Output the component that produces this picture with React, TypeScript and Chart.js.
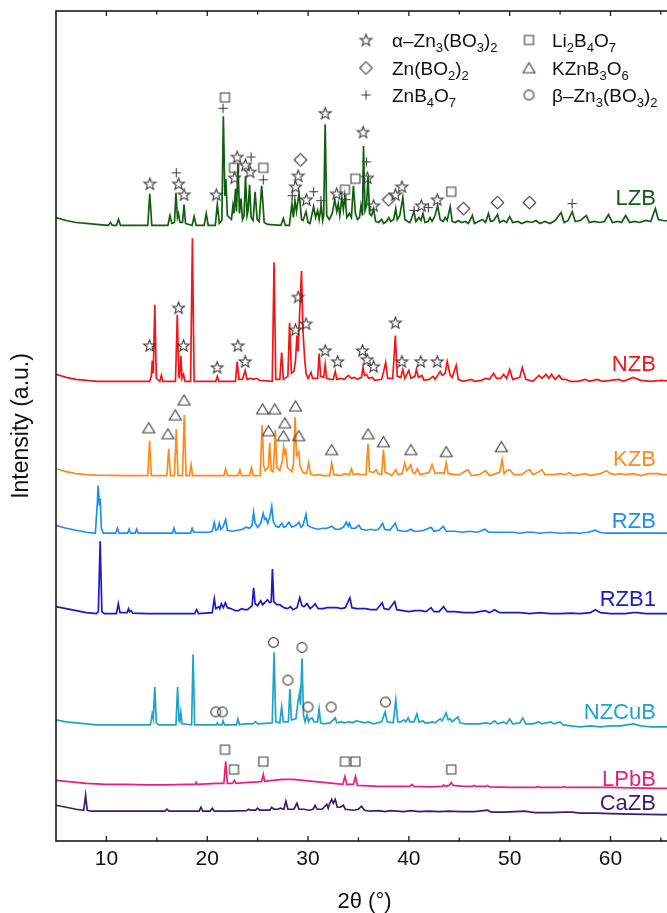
import React, { useEffect, useRef } from 'react';
import { Chart, registerables } from 'chart.js';

Chart.register(...registerables);

// ---------------- DATA ----------------
const SAMPLES = ['LZB', 'NZB', 'KZB', 'RZB', 'RZB1', 'NZCuB', 'LPbB', 'CaZB'];
// vertical stacking offsets of each pattern (a.u.)
const OFFSETS = [620, 463, 368, 310, 229, 117, 57, 30];
// label heights (a.u.)
const LABEL_Y = [647, 480, 384, 321, 243, 129, 62, 37];

// [2theta, intensity above offset]
const LZB = [
  [5, 8], [6, 5], [7, 3], [8, 2], [9, 1], [10.2, 0], [10.4, 3], [10.6, 0], [11.0, 0], [11.2, 6], [11.4, 0],
  [14.1, 0], [14.3, 32], [14.5, 0], [16.1, 0], [16.3, 10], [16.5, 2], [16.75, 3], [16.9, 33], [17.05, 8],
  [17.15, 12], [17.3, 3], [17.55, 3], [17.7, 21], [17.85, 2], [18.5, 0], [18.7, 9], [18.9, 0], [19.7, 0],
  [19.9, 12], [20.1, 0], [20.8, 0], [21.0, 21], [21.2, 2], [21.45, 5], [21.6, 110], [21.75, 30], [21.85, 47],
  [22.0, 10], [22.2, 8], [22.4, 6], [22.55, 20], [22.65, 12], [22.8, 37], [22.9, 14], [23.05, 62], [23.2, 12],
  [23.35, 27], [23.5, 6], [23.65, 10], [23.8, 50], [23.95, 10], [24.05, 15], [24.2, 41], [24.35, 8], [24.55, 5],
  [24.75, 34], [24.95, 6], [25.15, 4], [25.4, 40], [25.5, 26], [25.65, 3], [26.0, 1], [27.3, 0], [27.55, 7],
  [27.75, 0], [28.15, 0], [28.4, 22], [28.55, 8], [28.7, 25], [28.85, 14], [29.1, 32], [29.2, 24], [29.35, 6],
  [29.5, 5], [29.8, 14], [30.0, 3], [30.2, 2], [30.55, 19], [30.75, 8], [30.95, 15], [31.1, 6], [31.3, 20],
  [31.45, 5], [31.55, 10], [31.7, 102], [31.85, 10], [32.1, 6], [32.4, 12], [32.65, 26], [32.85, 14], [33.0, 22],
  [33.15, 10], [33.35, 28], [33.5, 16], [33.65, 30], [33.85, 8], [34.1, 12], [34.3, 8], [34.5, 40], [34.7, 12],
  [34.9, 6], [35.1, 8], [35.25, 20], [35.4, 10], [35.5, 80], [35.65, 15], [35.8, 20], [35.95, 50], [36.1, 12],
  [36.3, 10], [36.5, 17], [36.7, 4], [37.0, 3], [37.3, 6], [37.5, 2], [37.8, 4], [38.0, 8], [38.2, 4], [38.5, 6],
  [38.7, 17], [38.85, 6], [39.1, 10], [39.4, 28], [39.6, 6], [39.9, 4], [40.1, 3], [40.3, 8], [40.5, 14],
  [40.7, 4], [41.0, 8], [41.2, 5], [41.4, 12], [41.6, 3], [41.9, 4], [42.1, 8], [42.3, 4], [42.6, 10],
  [42.85, 20], [43.1, 6], [43.4, 4], [43.6, 8], [43.8, 5], [44.1, 19], [44.3, 4], [44.6, 3], [44.9, 5],
  [45.2, 3], [45.6, 4], [45.9, 2], [46.3, 10], [46.5, 2], [46.9, 4], [47.3, 6], [47.6, 3], [47.9, 12], [48.1, 4],
  [48.4, 5], [48.8, 11], [49.0, 3], [49.4, 5], [49.7, 3], [50.0, 9], [50.3, 3], [50.8, 4], [51.2, 2], [51.7, 4],
  [52.2, 3], [52.6, 5], [53.0, 2], [53.5, 4], [54.0, 2], [54.5, 5], [55.1, 13], [55.4, 3], [55.8, 5], [56.2, 14],
  [56.5, 4], [57.0, 5], [57.6, 10], [57.9, 3], [58.4, 4], [58.9, 3], [59.4, 4], [59.8, 11], [60.2, 3], [60.7, 4],
  [61.1, 3], [61.5, 10], [61.9, 3], [62.4, 4], [62.9, 3], [63.5, 5], [64.0, 4], [64.45, 17], [64.75, 6],
  [65.2, 5], [66.5, 4],
];

const NZB = [
  [5, 7], [6, 4], [7, 2], [8, 1], [9, 0], [12, 0], [14.3, 0], [14.45, 5], [14.55, 21], [14.65, 8], [14.8, 77],
  [14.95, 3], [15.3, 0], [15.46, 6], [15.6, 0], [16.85, 0], [17.03, 67], [17.18, 5], [17.25, 4], [17.38, 26],
  [17.5, 3], [17.65, 7], [17.8, 0], [18.35, 0], [18.53, 144], [18.7, 0], [20.85, 0], [21.0, 5], [21.15, 0],
  [22.8, 0], [22.97, 20], [23.15, 2], [23.5, 2], [23.76, 11], [23.95, 2], [24.3, 3], [24.6, 2], [24.9, 3],
  [25.2, 1], [26.45, 0], [26.63, 120], [26.8, 2], [27.2, 2], [27.38, 29], [27.55, 2], [28.0, 5], [28.17, 59],
  [28.35, 8], [28.6, 10], [28.75, 20], [28.9, 46], [29.0, 30], [29.35, 111], [29.5, 50], [29.65, 25], [29.8, 8],
  [30.0, 3], [30.3, 9], [30.45, 3], [30.95, 3], [31.1, 28], [31.25, 5], [31.55, 4], [31.7, 17], [31.85, 3],
  [32.2, 2], [32.5, 2], [32.7, 10], [32.85, 2], [33.3, 3], [33.6, 2], [34.0, 6], [34.3, 3], [34.6, 4], [34.9, 2],
  [35.3, 4], [35.45, 14], [35.6, 6], [35.8, 7], [36.0, 3], [36.4, 4], [36.6, 1], [37.3, 2], [37.5, 10],
  [37.7, 19], [37.9, 3], [38.4, 3], [38.66, 46], [38.85, 5], [39.2, 4], [39.4, 12], [39.6, 3], [40.0, 11],
  [40.2, 3], [40.6, 5], [40.75, 12], [40.95, 4], [41.3, 6], [41.5, 1], [42.0, 2], [42.4, 5], [42.6, 2],
  [43.1, 10], [43.3, 6], [43.6, 8], [43.8, 20], [44.1, 6], [44.3, 4], [44.7, 16], [44.9, 2], [45.4, 0],
  [46.2, 2], [46.5, 0], [47.2, 1], [47.6, 3], [48.0, 2], [48.4, 8], [48.7, 3], [49.1, 3], [49.4, 7], [49.7, 3],
  [50.0, 12], [50.3, 2], [51.0, 4], [51.25, 14], [51.6, 2], [52.3, 0], [52.9, 6], [53.2, 3], [53.6, 7],
  [53.9, 3], [54.15, 7], [54.5, 2], [54.9, 6], [55.2, 2], [55.55, 2], [56.0, 0], [56.8, 0], [57.5, 2],
  [57.9, 0], [58.3, 1], [58.7, 2], [59.2, 0], [60.0, 1], [60.8, 2], [61.3, 0], [62.25, 4], [63.0, 1],
  [64.0, 0], [65, 1], [66.5, 0],
];

const KZB = [
  [5, 7], [6, 4], [7, 2], [8, 1], [9, 0.5], [12, 0], [14.1, 0], [14.28, 35], [14.45, 0], [16.0, 0], [16.18, 27],
  [16.35, 0], [16.75, 0], [16.93, 47], [17.1, 0], [17.55, 0], [17.72, 61], [17.9, 0], [18.25, 0], [18.4, 11],
  [18.55, 0], [21.65, 0], [21.83, 7], [22.0, 0], [23.05, 0], [23.24, 6], [23.4, 0], [24.2, 0], [24.38, 8],
  [24.55, 0], [25.25, 0], [25.45, 51], [25.6, 10], [25.75, 5], [26.05, 8], [26.2, 33], [26.35, 5], [26.55, 4],
  [26.76, 46], [26.9, 8], [27.2, 5], [27.45, 15], [27.58, 29], [27.7, 22], [27.8, 25], [27.95, 8], [28.4, 4],
  [28.55, 12], [28.72, 59], [28.85, 20], [29.08, 24], [29.2, 10], [29.5, 3], [29.85, 2], [30.06, 13],
  [30.25, 2], [30.6, 0], [31.0, 1], [31.5, 0], [32.15, 0], [32.35, 13], [32.55, 1], [33.3, 0], [33.6, 2],
  [34.1, 1], [34.3, 7], [34.5, 1], [34.9, 2], [35.2, 1], [35.75, 1], [35.95, 32], [36.1, 4], [36.5, 3],
  [36.76, 6], [36.95, 2], [37.3, 1], [37.48, 26], [37.65, 3], [38.0, 2], [38.3, 0], [38.7, 6], [38.95, 1],
  [39.35, 2], [39.6, 13], [39.8, 5], [40.2, 11], [40.35, 4], [40.6, 2], [40.85, 7], [41.1, 1], [41.5, 2],
  [42.0, 3], [42.3, 11], [42.6, 2], [43.2, 3], [43.5, 2], [43.7, 13], [43.9, 2], [44.5, 1], [45.0, 1],
  [45.85, 6], [46.2, 0], [47.0, 1], [47.6, 5], [48.0, 0], [48.6, 2], [49.0, 3], [49.25, 16], [49.45, 2],
  [49.7, 5], [50.0, 6], [50.4, 1], [51.2, 1], [51.7, 5], [52.0, 6], [52.3, 1], [52.9, 4], [53.2, 6], [53.5, 1],
  [54.4, 1], [55.0, 2], [55.5, 1], [55.9, 3], [56.3, 0], [57.0, 1], [57.5, 2], [58.0, 0], [59.0, 2], [59.6, 5],
  [60.0, 2], [60.5, 1], [60.9, 2], [61.5, 1], [62.25, 2], [63.0, 0], [63.8, 2], [64.7, 2], [65.2, 1], [66.5, 1],
];

const RZB = [
  [5, 8], [6, 5], [7, 3], [8, 1], [8.9, 0], [9.1, 30], [9.18, 48], [9.3, 28], [9.38, 35], [9.5, 5], [9.7, 0],
  [10.9, 0], [11.1, 5], [11.25, 0], [12.1, 0], [12.25, 4], [12.4, 0], [12.85, 0], [13.0, 4], [13.15, 0],
  [16.55, 0], [16.7, 5], [16.85, 0], [18.35, 0], [18.5, 5], [18.65, 1], [20.2, 1], [20.5, 2], [20.7, 11],
  [20.85, 3], [21.05, 4], [21.2, 10], [21.35, 4], [21.55, 6], [21.83, 14], [22.0, 3], [22.5, 2], [23.0, 3],
  [23.5, 4], [23.85, 6], [24.2, 5], [24.45, 8], [24.6, 21], [24.75, 10], [25.0, 6], [25.3, 10], [25.55, 20],
  [25.7, 14], [25.85, 15], [26.0, 10], [26.2, 16], [26.4, 27], [26.55, 12], [26.8, 7], [27.1, 6], [27.4, 10],
  [27.6, 6], [27.8, 7], [28.1, 11], [28.4, 6], [28.8, 8], [29.1, 11], [29.3, 6], [29.5, 8], [29.8, 19],
  [29.95, 8], [30.3, 6], [30.6, 5], [31.0, 4], [31.5, 5], [31.9, 5], [32.35, 7], [32.7, 4], [33.1, 4],
  [33.5, 6], [33.8, 11], [34.0, 7], [34.1, 10], [34.3, 5], [34.7, 5], [35.05, 8], [35.3, 4], [35.8, 3],
  [36.2, 4], [36.6, 3], [37.0, 4], [37.4, 10], [37.6, 4], [38.1, 3], [38.66, 10], [38.9, 3], [39.4, 2],
  [39.8, 2], [40.2, 4], [40.5, 2], [41.0, 2], [41.5, 3], [42.2, 6], [42.5, 2], [43.0, 3], [43.4, 7], [43.7, 2],
  [44.5, 2], [45.3, 1], [46.0, 2], [46.8, 1], [47.55, 4], [47.9, 1], [48.6, 1], [49.5, 1], [50.4, 1], [51.0, 0],
  [51.7, 1], [52.3, 1], [53.0, 0], [54.0, 1], [55.0, 0], [56.0, 0.5], [57.0, 0], [57.8, 1], [58.5, 3],
  [58.9, 1], [59.5, 0], [60.5, 0], [61.5, 0], [62.5, 0], [63.5, 0], [65, 0], [66.5, 0],
];

const RZB1 = [
  [5, 7], [6, 5], [7, 3], [8, 1], [9, 0], [9.2, 2], [9.38, 73], [9.55, 2], [9.8, 0], [11.0, 0], [11.18, 10],
  [11.35, 1], [12.05, 1], [12.2, 5], [12.3, 2], [12.45, 3], [12.6, 0.5], [14, 0], [16, 0], [18.75, 0],
  [18.95, 4], [19.15, 0], [20.5, 1], [20.7, 15], [20.85, 5], [21.0, 6], [21.15, 7], [21.25, 5], [21.4, 10],
  [21.6, 6], [21.8, 11], [22.0, 6], [22.4, 5], [22.8, 3], [23.1, 3], [23.4, 5], [23.7, 4], [24.0, 4],
  [24.45, 8], [24.6, 26], [24.75, 10], [25.0, 8], [25.3, 13], [25.5, 9], [25.8, 12], [25.98, 14], [26.2, 11],
  [26.35, 12], [26.47, 45], [26.6, 12], [26.9, 9], [27.2, 9], [27.6, 6], [27.95, 5], [28.27, 7], [28.5, 4],
  [28.9, 6], [29.18, 16], [29.4, 8], [29.6, 7], [29.9, 10], [30.2, 5], [30.45, 7], [30.7, 10], [31.0, 5],
  [31.5, 5], [31.9, 6], [32.35, 6], [32.85, 6], [33.3, 5], [33.7, 6], [34.15, 16], [34.35, 6], [34.8, 5],
  [35.2, 5], [35.7, 5], [36.2, 4], [36.8, 4], [37.35, 11], [37.55, 5], [38.0, 4], [38.6, 12], [38.8, 4],
  [39.4, 3], [40.0, 2], [40.6, 3], [41.2, 3], [41.7, 2], [42.2, 6], [42.5, 2], [43.0, 2], [43.45, 7],
  [43.8, 2], [44.5, 2], [45.5, 1], [46.5, 1], [47.55, 3], [48.0, 1], [48.5, 4], [49.0, 1], [50.0, 1],
  [51.0, 1], [52.0, 0], [53.0, 1], [54.0, 0], [55.0, 0], [56.0, 0.5], [57.0, 0], [58.0, 1], [58.5, 4],
  [59.0, 1], [60.0, 0], [61.5, 0], [62.2, 1], [62.7, 1], [63.5, 0], [65, 0], [66.5, 0],
];

const NZCuB = [
  [5, 5], [6, 3], [7, 2], [8, 1], [9, 0], [14.35, 0], [14.45, 5], [14.54, 11], [14.65, 6], [14.8, 38],
  [14.95, 2], [15.2, 0], [16.9, 0], [17.06, 38], [17.2, 4], [17.27, 3], [17.38, 13], [17.5, 1], [18.45, 0],
  [18.6, 71], [18.75, 0], [20.9, 0], [21.0, 2], [21.1, 0], [21.45, 0], [21.57, 4], [21.7, 0], [22.9, 0],
  [23.04, 6], [23.2, 0], [23.6, 1], [24.5, 1], [24.8, 3], [25.0, 1], [26.45, 2], [26.63, 73], [26.8, 3],
  [27.2, 2], [27.38, 18], [27.55, 3], [28.05, 3], [28.2, 36], [28.35, 5], [28.8, 6], [29.0, 23], [29.18, 33],
  [29.25, 20], [29.4, 67], [29.55, 10], [29.7, 3], [29.9, 10], [30.05, 3], [30.2, 6], [30.4, 7], [30.6, 3],
  [30.95, 3], [31.1, 16], [31.25, 2], [31.6, 1], [32.2, 2], [32.7, 7], [32.85, 2], [33.3, 3], [33.6, 2],
  [34.1, 3], [34.4, 2], [34.8, 4], [35.2, 3], [35.6, 2], [36.0, 3], [36.5, 1], [37.3, 3], [37.65, 13],
  [37.85, 3], [38.45, 2], [38.7, 25], [38.9, 3], [39.2, 3], [39.5, 5], [39.7, 3], [39.93, 7], [40.1, 3],
  [40.5, 3], [40.8, 11], [41.0, 3], [41.4, 4], [41.6, 2], [42.0, 2], [42.3, 3], [42.6, 2], [43.1, 6],
  [43.3, 4], [43.7, 12], [43.9, 5], [44.1, 6], [44.3, 3], [44.85, 8], [45.1, 2], [45.6, 1], [46.3, 1],
  [47.0, 1], [47.6, 2], [48.1, 1], [48.5, 4], [48.8, 1], [49.4, 3], [49.7, 1], [50.0, 6], [50.3, 1], [51.0, 2],
  [51.3, 7], [51.6, 1], [52.3, 1], [52.9, 3], [53.2, 1], [53.6, 2], [54.1, 3], [54.4, 1], [55.0, 3],
  [55.3, 0], [56.0, -1], [57.0, -2], [58.0, -1], [59.0, -2], [60.0, -1], [61.0, -1], [62.25, 1], [63.0, -1],
  [64.0, -2], [65, -2], [66.5, -2],
];

const LPbB = [
  [5, 4], [6, 3], [7, 2], [8, 1], [10, 0], [12, 0], [14, -0.5], [16, -0.5], [18, 0], [18.8, 0], [18.9, 2],
  [19.0, 0], [20, 0.5], [21, 1], [21.65, 1], [21.83, 23], [22.0, 1], [22.5, 1], [22.7, 4], [22.85, 1],
  [24, 2], [25, 2.5], [25.4, 3], [25.56, 10], [25.7, 3], [26.5, 4], [27.5, 5], [28.5, 5], [29.5, 4],
  [30.5, 3], [31.5, 2], [32.5, 1], [33.45, 0], [33.66, 8], [33.85, 0], [34.5, 0], [34.7, 8], [34.9, -1],
  [36, -1.5], [37, -2], [38, -2], [39, -2], [40.1, -2], [40.3, 0], [40.5, -2], [42, -2.5], [43.3, -2],
  [43.45, -0.5], [43.6, -2], [44.0, -1], [44.2, 2], [44.4, -1], [45.5, -2], [46.3, -2], [46.5, -1],
  [46.7, -2], [47.6, -2], [47.8, -1], [48.0, -2.5], [50, -3], [52.6, -3], [52.8, -2], [53, -3], [55.2, -3],
  [55.4, -2], [55.6, -3], [58, -3], [60, -3], [62, -3.5], [65, -4], [66.5, -4],
];

const CaZB = [
  [5, 6], [6, 4], [7, 2], [7.75, 1], [7.94, 16], [8.1, 1], [8.5, 0], [10, 0], [12, 0], [14, 0], [15.8, 0],
  [16.0, 2], [16.2, 0], [19.2, 0], [19.38, 4], [19.55, 0], [20.3, 0], [20.5, 3], [20.7, 0], [22, 0],
  [23.9, 0.5], [24.1, 2], [24.3, 1], [24.8, 1], [25.0, 3], [25.2, 1], [26.2, 1], [26.4, 4], [26.6, 2],
  [27.0, 2], [27.25, 3], [27.6, 2], [27.8, 10], [28.0, 2], [28.6, 2], [28.9, 8], [29.1, 2], [29.6, 2],
  [30.1, 1], [30.5, 2], [30.7, 6], [30.9, 2], [31.4, 2], [31.86, 7], [32.0, 3], [32.15, 8], [32.35, 12],
  [32.5, 8], [32.7, 12], [32.9, 4], [33.2, 4], [33.5, 6], [33.7, 2], [34.5, 1], [35.0, 2], [35.3, 5],
  [35.6, 1], [36.2, 0], [37.0, 0.5], [37.6, -0.5], [38.2, 0.5], [38.8, 0], [39.5, -0.5], [40.2, 0.5],
  [41.0, -0.5], [42.0, 0], [43.0, -0.5], [44.0, 0], [45.0, -0.5], [46.5, -0.5], [47.8, 1], [48.2, -1],
  [49.5, -1], [51.5, 0], [52.5, -1.5], [54, -1.5], [55.5, -1], [56.2, -1], [57, -2], [58.5, -2], [60, -2.5],
  [62, -3], [65, -3.5], [66.5, -3.5],
];

const TRACES = [LZB, NZB, KZB, RZB, RZB1, NZCuB, LPbB, CaZB];

// phase reflections [2theta, marker height (a.u.)]
const STAR_PEAKS = [
  [14.31, 662], [17.16, 662], [17.7, 651], [20.9, 651], [22.97, 689], [22.71, 668], [23.79, 681], [24.25, 674],
  [28.76, 659], [29.02, 670], [29.84, 646], [31.7, 733], [32.84, 652], [35.46, 714], [35.88, 668], [36.5, 640],
  [38.66, 651], [39.31, 659], [41.24, 640], [42.81, 646],
  [14.28, 499], [17.16, 537], [17.65, 499], [20.98, 477], [23.04, 499], [23.76, 483], [28.76, 515], [29.02, 548],
  [29.8, 521], [31.7, 494], [32.94, 483], [35.4, 494], [35.85, 485], [36.5, 478], [38.66, 522], [39.31, 483],
  [41.18, 483], [42.81, 483],
];
const DIAMOND_PEAKS = [[29.25, 686], [38.0, 646], [45.42, 637], [48.79, 643], [51.96, 643]];
const PLUS_PEAKS = [
  [16.93, 673], [21.57, 738], [24.35, 689], [25.56, 666], [28.43, 650], [30.55, 654], [31.27, 645],
  [33.76, 646], [35.78, 684], [40.52, 635], [41.93, 638], [56.2, 642],
];
const SQUARE_PEAKS = [
  [21.76, 749], [22.65, 678], [25.56, 678], [33.66, 656], [34.7, 667], [44.2, 654],
  [21.76, 92], [22.65, 72], [25.56, 80], [33.66, 80], [34.7, 80], [44.2, 72],
];
const TRIANGLE_PEAKS = [
  [14.2, 416], [16.1, 410], [16.83, 429], [17.7, 444], [25.49, 435], [26.7, 435], [28.76, 438], [26.08, 413],
  [27.7, 421], [27.55, 408], [29.08, 408], [32.35, 394], [35.95, 410], [37.48, 402], [40.2, 394], [43.7, 392],
  [49.18, 397],
];
const CIRCLE_PEAKS = [[20.85, 130], [21.5, 130], [26.57, 200], [28.0, 162], [29.4, 195], [30.0, 135], [32.29, 135], [37.68, 140]];

const PHASE_LABELS = ['α–Zn_3(BO_3)_2', 'Zn(BO_2)_2', 'ZnB_4O_7', 'Li_2B_4O_7', 'KZnB_3O_6', 'β–Zn_3(BO_3)_2'];
const PHASE_SYMBOLS = ['star', 'diamond', 'plus', 'square', 'triangle', 'circle'];
const PHASE_PEAKS = [STAR_PEAKS, DIAMOND_PEAKS, PLUS_PEAKS, SQUARE_PEAKS, TRIANGLE_PEAKS, CIRCLE_PEAKS];

const X_MAJOR = [10, 20, 30, 40, 50, 60];
const X_MINOR = [15, 25, 35, 45, 55, 65];

// ---------------- STYLE ----------------
const COLORS = ['#115e11', '#f41616', '#ff8a1c', '#1f8ef0', '#1b1bc4', '#1ea4cb', '#ec1f78', '#3b1d6e'];
const FONT = "'Liberation Sans', Arial, sans-serif";
const MARK_COLOR = '#3c3c3c';

function makeSymbol(kind: string): HTMLCanvasElement {
  const s = 17;
  const c = document.createElement('canvas');
  c.width = s;
  c.height = s;
  const ctx = c.getContext('2d') as CanvasRenderingContext2D;
  ctx.strokeStyle = MARK_COLOR;
  ctx.lineWidth = 1.1;
  ctx.lineJoin = 'miter';
  const m = s / 2;
  ctx.beginPath();
  if (kind === 'star') {
    const R = 6.2, r = 2.6;
    for (let i = 0; i < 10; i++) {
      const a = -Math.PI / 2 + (i * Math.PI) / 5;
      const rad = i % 2 ? r : R;
      const px = m + rad * Math.cos(a);
      const py = m + 0.5 + rad * Math.sin(a);
      if (i === 0) ctx.moveTo(px, py);
      else ctx.lineTo(px, py);
    }
    ctx.closePath();
  } else if (kind === 'diamond') {
    const r = 6.3;
    ctx.moveTo(m - r, m);
    ctx.lineTo(m, m - r);
    ctx.lineTo(m + r, m);
    ctx.lineTo(m, m + r);
    ctx.closePath();
  } else if (kind === 'plus') {
    const r = 4.7;
    ctx.moveTo(m - r, m);
    ctx.lineTo(m + r, m);
    ctx.moveTo(m, m - r);
    ctx.lineTo(m, m + r);
  } else if (kind === 'square') {
    ctx.rect(m - 4.5, m - 4.5, 9, 9);
  } else if (kind === 'triangle') {
    ctx.moveTo(m, m - 5.2);
    ctx.lineTo(m + 6, m + 4.8);
    ctx.lineTo(m - 6, m + 4.8);
    ctx.closePath();
  } else {
    ctx.arc(m, m, 4.9, 0, Math.PI * 2);
  }
  ctx.stroke();
  return c;
}

function drawRich(ctx: CanvasRenderingContext2D, text: string, x: number, y: number) {
  let cx = x;
  let i = 0;
  while (i < text.length) {
    if (text[i] === '_') {
      const ch = text[i + 1];
      ctx.font = `13px ${FONT}`;
      ctx.fillText(ch, cx, y + 5);
      cx += ctx.measureText(ch).width;
      i += 2;
    } else {
      let j = i;
      while (j < text.length && text[j] !== '_') j++;
      const seg = text.slice(i, j);
      ctx.font = `19px ${FONT}`;
      ctx.fillText(seg, cx, y);
      cx += ctx.measureText(seg).width;
      i = j;
    }
  }
}

export default function App() {
  const ref = useRef<HTMLCanvasElement>(null);

  useEffect(() => {
    const symbols: Record<string, HTMLCanvasElement> = {};
    PHASE_SYMBOLS.forEach((k) => (symbols[k] = makeSymbol(k)));

    const markerSets = PHASE_PEAKS.map((pk, i) => ({
      label: PHASE_LABELS[i],
      data: pk.map(([x, y]) => ({ x, y })),
      showLine: false,
      pointStyle: symbols[PHASE_SYMBOLS[i]] as any,
      pointRadius: 6,
      pointHoverRadius: 6,
      borderColor: MARK_COLOR,
      backgroundColor: 'rgba(0,0,0,0)',
    }));

    const lineSets = TRACES.map((tr, i) => ({
      label: SAMPLES[i],
      data: tr.map(([x, v]) => ({ x, y: v + OFFSETS[i] })),
      borderColor: COLORS[i],
      borderWidth: 1.7,
      pointRadius: 0,
      tension: 0,
      fill: false,
    }));

    const decorPlugin = {
      id: 'decor',
      afterDatasetsDraw(chart: any) {
        const { ctx, chartArea: a, scales } = chart;
        const xs = scales.x;
        const ys = scales.y;
        ctx.save();
        // frame
        ctx.strokeStyle = '#1a1a1a';
        ctx.lineWidth = 1.6;
        ctx.strokeRect(a.left, a.top, a.right - a.left, a.bottom - a.top);
        ctx.lineWidth = 1.3;
        const tick = (v: number, len: number) => {
          const px = xs.getPixelForValue(v);
          ctx.beginPath();
          ctx.moveTo(px, a.bottom);
          ctx.lineTo(px, a.bottom - len);
          ctx.moveTo(px, a.top);
          ctx.lineTo(px, a.top + len);
          ctx.stroke();
        };
        X_MAJOR.forEach((v) => tick(v, 5));
        X_MINOR.forEach((v) => tick(v, 3.5));

        // sample labels
        ctx.font = `22px ${FONT}`;
        ctx.textAlign = 'right';
        ctx.textBaseline = 'middle';
        SAMPLES.forEach((s, i) => {
          ctx.fillStyle = COLORS[i];
          ctx.fillText(s, xs.getPixelForValue(64.5), ys.getPixelForValue(LABEL_Y[i]));
        });

        // legend
        ctx.textAlign = 'left';
        ctx.textBaseline = 'alphabetic';
        ctx.fillStyle = '#111';
        const colSym = [366, 529];
        const colText = [392, 552];
        const rowBase = [47, 75, 102];
        PHASE_LABELS.forEach((lab, i) => {
          const col = Math.floor(i / 3);
          const row = i % 3;
          const sym = symbols[PHASE_SYMBOLS[i]];
          ctx.drawImage(sym, colSym[col] - 8.5, rowBase[row] - 7 - 8.5);
          drawRich(ctx, lab, colText[col], rowBase[row]);
        });
        ctx.restore();
      },
    };

    const chart = new Chart(ref.current as HTMLCanvasElement, {
      type: 'line',
      data: { datasets: [...markerSets, ...lineSets] as any },
      options: {
        responsive: false,
        animation: false,
        devicePixelRatio: 1,
        layout: { padding: { left: 8.2, top: 11, right: 0, bottom: 0 } },
        plugins: { legend: { display: false }, tooltip: { enabled: false } },
        scales: {
          x: {
            type: 'linear',
            min: 5,
            max: 66.2,
            grid: { display: false, drawTicks: false },
            border: { display: false },
            ticks: {
              stepSize: 5,
              autoSkip: false,
              maxRotation: 0,
              padding: 6,
              color: '#111',
              font: { size: 21, family: FONT },
              callback: (v: any) => (Number(v) % 10 === 0 ? String(v) : ''),
            },
            title: {
              display: true,
              text: '2θ (°)',
              color: '#111',
              font: { size: 22, family: FONT, lineHeight: 1.0 },
              padding: { top: 12.8, bottom: 0 },
            },
          },
          y: {
            min: 0,
            max: 836,
            grid: { display: false, drawTicks: false },
            border: { display: false },
            ticks: { display: false },
            title: {
              display: true,
              text: 'Intensity (a.u.)',
              color: '#111',
              font: { size: 23, family: FONT },
              padding: { top: 0, bottom: 20.2 },
            },
          },
        },
      } as any,
      plugins: [decorPlugin],
    });
    return () => chart.destroy();
  }, []);

  return (
    <div style={{ position: 'absolute', left: 0, top: 0, width: 667, height: 913, overflow: 'hidden', background: '#fff' }}>
      <canvas ref={ref} width={680} height={913} style={{ display: 'block', width: 680, height: 913 }} />
    </div>
  );
}
